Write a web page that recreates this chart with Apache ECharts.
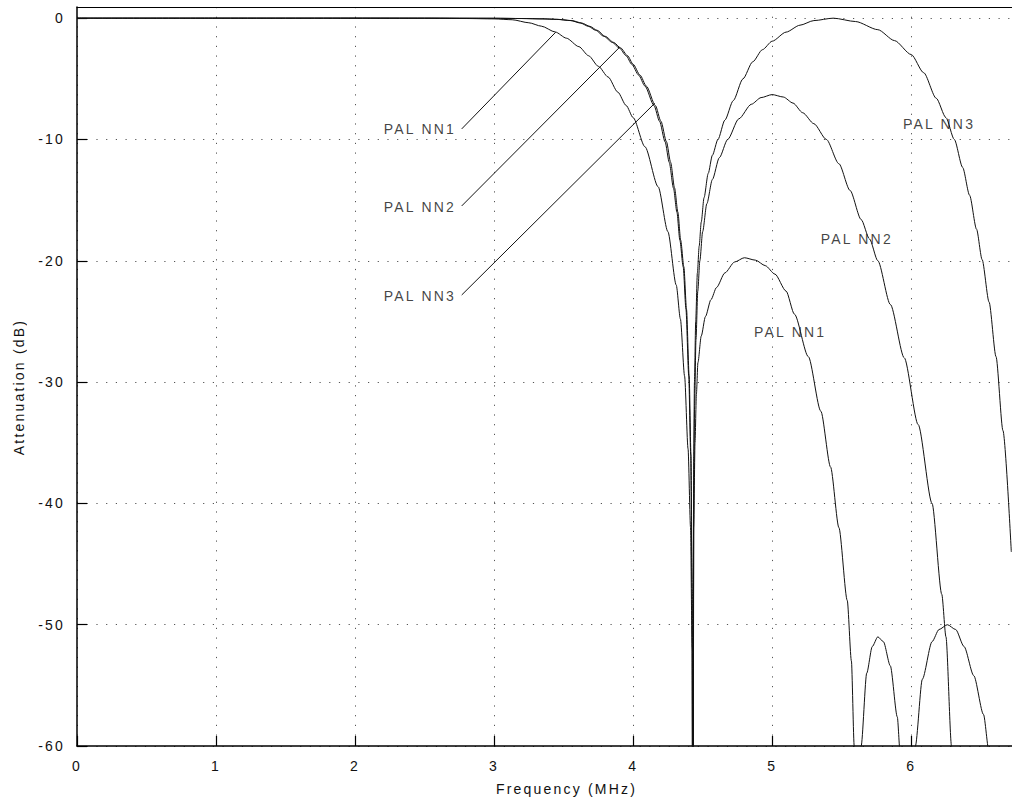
<!DOCTYPE html>
<html><head><meta charset="utf-8">
<script src="https://cdn.jsdelivr.net/npm/echarts@6/dist/echarts.min.js"></script>
<style>
html,body{margin:0;padding:0;background:#fff;}
#chart{width:1012px;height:804px;}
#chart svg text{letter-spacing:2.2px;opacity:0.999;}
</style></head><body><div id="chart"></div>
<script>
// ---- data ----
const nn1Freq = [0, 1, 2, 2.5, 2.8, 3.0, 3.13, 3.25, 3.34, 3.44, 3.52, 3.61, 3.68, 3.75, 3.82, 3.89, 3.95, 4.0, 4.085, 4.18, 4.25, 4.31, 4.34, 4.37, 4.395, 4.413, 4.424, 4.43, 4.436, 4.445, 4.455, 4.466, 4.49, 4.52, 4.56, 4.6, 4.66, 4.73, 4.8, 4.88, 4.95, 5.02, 5.1, 5.16, 5.26, 5.35, 5.42, 5.48, 5.54, 5.57, 5.59, 5.61, 5.625, 5.64, 5.68, 5.72, 5.76, 5.8, 5.85, 5.9, 5.92, 5.94, 5.975, 6.0, 6.03, 6.08, 6.15, 6.2, 6.26, 6.32, 6.38, 6.45, 6.52, 6.56, 6.58, 6.72];
const nn1Att  = [0, 0, 0, -0.01, -0.03, -0.06, -0.13, -0.38, -0.66, -1.14, -1.65, -2.35, -3.1, -3.97, -4.85, -6.1, -7.2, -8.2, -10.6, -13.9, -17.6, -22.0, -24.8, -29.5, -35.5, -42, -52, -85, -42, -35, -31, -28.4, -26.2, -24.6, -23.2, -22.2, -21.0, -20.1, -19.75, -19.95, -20.4, -21.1, -22.5, -24.4, -27.9, -32.4, -37.0, -42.0, -48.0, -53, -60, -70, -75, -60, -54, -51.8, -51.0, -51.4, -53.4, -57.6, -60.5, -66, -80, -68, -60, -54.5, -51.4, -50.4, -50.0, -50.4, -51.8, -54.2, -57.4, -60.5, -66, -80];

const nn2Freq = [0, 1, 2, 2.5, 3.0, 3.2, 3.35, 3.45, 3.55, 3.62, 3.68, 3.73, 3.79, 3.85, 3.9, 3.95, 3.99, 4.04, 4.085, 4.15, 4.19, 4.23, 4.26, 4.29, 4.315, 4.336, 4.36, 4.38, 4.40, 4.414, 4.424, 4.43, 4.436, 4.442, 4.452, 4.465, 4.48, 4.5, 4.53, 4.57, 4.62, 4.68, 4.76, 4.85, 4.92, 5.0, 5.08, 5.15, 5.22, 5.3, 5.39, 5.48, 5.56, 5.64, 5.7, 5.76, 5.85, 5.95, 6.05, 6.15, 6.22, 6.25, 6.29, 6.31, 6.33];
const nn2Att  = [0, 0, 0, 0, -0.01, -0.03, -0.06, -0.1, -0.2, -0.4, -0.68, -1.0, -1.5, -2.0, -2.45, -3.1, -3.8, -4.7, -5.6, -7.2, -8.5, -10.2, -11.9, -14, -16, -18.3, -20.5, -24, -29.5, -36, -47, -85, -38, -32, -26.5, -22.5, -20, -17.6, -15.3, -13.3, -11.5, -10.0, -8.3, -7.1, -6.55, -6.3, -6.5, -7.0, -7.8, -8.7, -10.0, -12.0, -14.2, -16.6, -18.2, -20.0, -23.6, -28.0, -33.5, -40.0, -47.5, -51, -60, -70, -80];

const nn3Freq = [0, 1, 2, 2.5, 3.0, 3.2, 3.36, 3.46, 3.56, 3.63, 3.69, 3.74, 3.8, 3.86, 3.91, 3.96, 4.0, 4.05, 4.095, 4.16, 4.2, 4.24, 4.27, 4.298, 4.322, 4.342, 4.365, 4.384, 4.403, 4.416, 4.425, 4.43, 4.436, 4.441, 4.45, 4.462, 4.475, 4.49, 4.51, 4.54, 4.57, 4.61, 4.66, 4.72, 4.79, 4.86, 4.93, 5.0, 5.1, 5.2, 5.3, 5.44, 5.6, 5.76, 5.88, 6.0, 6.09, 6.18, 6.25, 6.31, 6.37, 6.42, 6.47, 6.51, 6.56, 6.61, 6.66, 6.72];
const nn3Att  = [0, 0, 0, 0, -0.01, -0.03, -0.06, -0.1, -0.2, -0.4, -0.68, -1.0, -1.5, -2.0, -2.45, -3.1, -3.8, -4.7, -5.6, -7.2, -8.5, -10.2, -11.9, -14, -16, -18.3, -20.5, -24, -29.5, -36, -47, -85, -36, -30, -25, -21, -18.8, -16.8, -14.8, -12.8, -11.3, -10, -8.4, -6.8, -5.0, -3.6, -2.6, -1.9, -1.15, -0.58, -0.2, 0, -0.28, -0.95, -1.85, -3.0, -4.5, -6.6, -8.2, -10, -12.3, -14.6, -17.4, -19.9, -23.4, -27.9, -34, -44];

const seriesNames = ['PAL NN1', 'PAL NN2', 'PAL NN3'];

// curve labels (text centre in data units)
const labelText = ['PAL NN1', 'PAL NN2', 'PAL NN3', 'PAL NN3', 'PAL NN2', 'PAL NN1'];
const labelFreq = [2.47, 2.47, 2.47, 6.204, 5.612, 5.133];
const labelAtt  = [-9.14, -15.58, -22.96, -8.78, -18.26, -25.91];

// leader lines from left labels to the curves
const leaderStartFreq = [2.767, 2.767, 2.767];
const leaderStartAtt  = [-9.13, -15.48, -22.82];
const leaderEndFreq   = [3.443, 3.90, 4.155];
const leaderEndAtt    = [-1.16, -2.43, -7.02];

const xMin = 0, xMax = 6.725, xStep = 1;
const yMin = -60, yMax = 0.92, yStep = 10;

// ---- chart ----
const FONT = "'Liberation Sans', Arial, Helvetica, sans-serif";
const FS = 14;
const TXT = '#111111';
const chart = echarts.init(document.getElementById('chart'), null, {renderer: 'svg'});

function pairs(xs, ys) { return xs.map((x, i) => [x, ys[i]]); }

const lineStyle = {color: '#111', width: 1};
const curveData = [pairs(nn1Freq, nn1Att), pairs(nn2Freq, nn2Att), pairs(nn3Freq, nn3Att)];

const series = curveData.map((d, i) => ({
  name: seriesNames[i],
  type: 'line',
  data: d,
  symbol: 'none',
  smooth: 0.25,
  smoothMonotone: 'x',
  clip: true,
  lineStyle: lineStyle,
  animation: false,
  silent: true,
  z: 3
}));

series.push({
  name: 'leaders',
  type: 'line',
  data: [],
  symbol: 'none',
  animation: false,
  silent: true,
  markLine: {
    silent: true,
    symbol: ['none', 'none'],
    animation: false,
    label: {show: false},
    lineStyle: {color: '#111', width: 1, type: 'solid'},
    data: leaderStartFreq.map((x, i) => [
      {coord: [x, leaderStartAtt[i]]},
      {coord: [leaderEndFreq[i], leaderEndAtt[i]]}
    ])
  }
});

series.push({
  name: 'labels',
  type: 'scatter',
  symbolSize: 1,
  animation: false,
  silent: true,
  itemStyle: {color: 'rgba(0,0,0,0)'},
  data: labelText.map((t, i) => ({name: t, value: [labelFreq[i], labelAtt[i]]})),
  label: {
    show: true,
    position: [0, 0],
    align: 'center',
    verticalAlign: 'middle',
    formatter: p => p.name,
    color: TXT,
    textBorderWidth: 0,
    fontFamily: FONT,
    fontSize: FS
  },
  z: 5
});

const option = {
  animation: false,
  backgroundColor: '#fff',
  grid: {left: 77, right: -2, top: 7, bottom: 58, containLabel: false},
  xAxis: [{
    type: 'value',
    min: xMin, max: xMax, interval: xStep,
    name: 'Frequency (MHz)',
    nameLocation: 'middle',
    nameGap: 36,
    nameTextStyle: {color: TXT, fontFamily: FONT, fontSize: FS, padding: [0, 0, 0, 44]},
    axisLine: {show: true, onZero: false, lineStyle: {color: '#000', width: 1.5}},
    axisTick: {show: true, inside: true, length: 10, lineStyle: {color: '#000', width: 1.2}},
    axisLabel: {color: TXT, fontFamily: FONT, fontSize: FS, margin: 13, showMaxLabel: false},
    splitLine: {show: true, lineStyle: {color: '#555', width: 1, type: [1.2, 8.5]}}
  }, {
    type: 'value',
    position: 'top',
    min: xMin, max: xMax, interval: xStep,
    axisLine: {show: true, onZero: false, lineStyle: {color: '#000', width: 1}},
    axisTick: {show: false},
    axisLabel: {show: false},
    splitLine: {show: false}
  }],
  yAxis: {
    type: 'value',
    min: yMin, max: yMax, interval: yStep,
    name: 'Attenuation (dB)',
    nameLocation: 'middle',
    nameGap: 51,
    nameTextStyle: {color: TXT, fontFamily: FONT, fontSize: FS, padding: [0, 21, 0, 0]},
    axisLine: {show: true, onZero: false, lineStyle: {color: '#000', width: 1.5}},
    axisTick: {show: true, inside: true, length: 10, lineStyle: {color: '#000', width: 1.2}},
    axisLabel: {color: TXT, fontFamily: FONT, fontSize: FS, margin: 12, showMaxLabel: false},
    splitLine: {show: true, lineStyle: {color: '#555', width: 1, type: [1.2, 8.5]}}
  },
  series: series
};
chart.setOption(option);
</script></body></html>
